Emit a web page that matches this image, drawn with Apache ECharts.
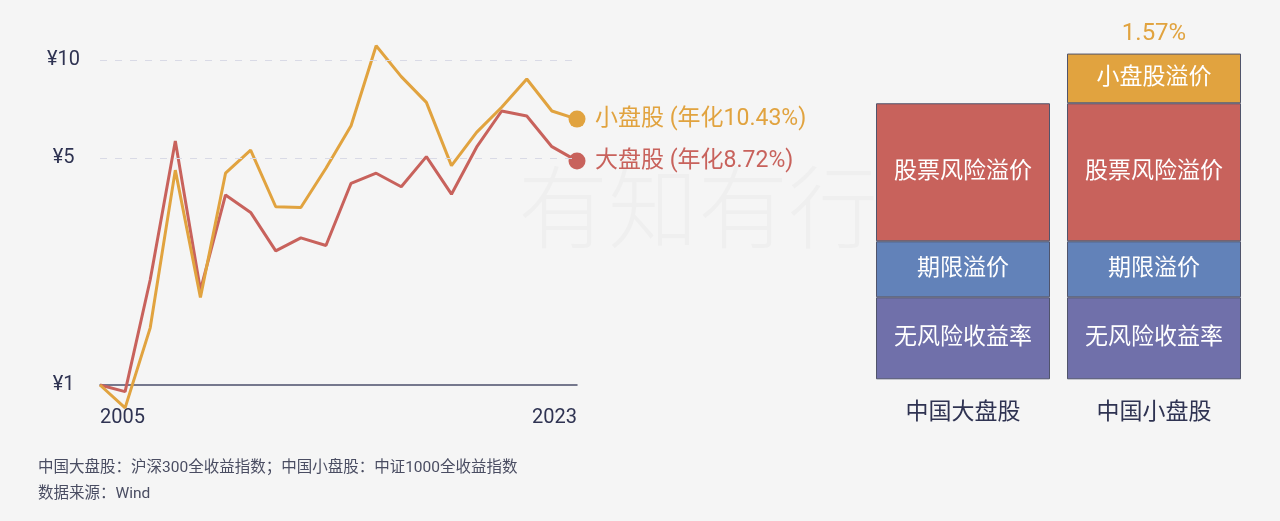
<!DOCTYPE html>
<html>
<head>
<meta charset="utf-8">
<script src="https://cdn.jsdelivr.net/npm/echarts@6/dist/echarts.min.js"></script>
<style>
html,body{margin:0;padding:0;background:#f5f5f5;}
#c{width:1280px;height:521px;}
</style>
</head>
<body>
<div id="c"></div>
<script>
// ---- data ----
const periods = ['2005初','2005','2006','2007','2008','2009','2010','2011','2012','2013','2014','2015','2016','2017','2018','2019','2020','2021','2022','2023'];
const xTickLabels = ['2005', '2023'];
const yTickValues = [1, 5, 10];
const smallCap = [1, 0.85, 1.50, 4.59, 1.86, 4.49, 5.29, 3.54, 3.52, 4.65, 6.29, 11.09, 8.91, 7.42, 4.74, 6.00, 7.17, 8.76, 6.98, 6.59];
const largeCap = [1, 0.954, 2.11, 5.64, 1.96, 3.85, 3.40, 2.59, 2.84, 2.69, 4.18, 4.49, 4.08, 5.05, 3.87, 5.40, 6.98, 6.74, 5.42, 4.90];
const smallName = '小盘股 (年化10.43%)';
const largeName = '大盘股 (年化8.72%)';

const barCategories = ['中国大盘股', '中国小盘股'];
const riskFree = [2.59, 2.59];
const termPremium = [1.77, 1.77];
const equityPremium = [4.36, 4.36];
const smallPremium = ['-', 1.57];
const segNames = ['无风险收益率', '期限溢价', '股票风险溢价', '小盘股溢价'];

const notes = ['中国大盘股：沪深300全收益指数；中国小盘股：中证1000全收益指数', '数据来源：Wind'];

// ---- style ----
const C_ORANGE = '#E1A33F', C_RED = '#C8625C', C_BLUE = '#6282B9', C_PURPLE = '#7070AA';
const C_TEXT = '#2f3352';
const FONT = 'Roboto, "Noto Sans CJK SC", sans-serif';
const last = periods.length - 1;

const chart = echarts.init(document.getElementById('c'), null, {renderer: 'canvas'});

const segStyle = (color) => ({color: color, borderColor: '#50546b', borderWidth: 1});
const segLabel = {show: true, position: 'inside', color: '#ffffff', fontSize: 23, fontFamily: FONT, formatter: (p) => p.seriesName};

chart.setOption({
  backgroundColor: '#f5f5f5',
  animation: false,
  textStyle: {fontFamily: FONT},
  graphic: [
    {type: 'text', left: 518, top: 162, z: -10, silent: true,
     style: {text: '有知有行', fontSize: 90, fontFamily: '"Noto Sans CJK SC"', fontWeight: 300, fill: 'rgba(0,0,0,0.025)'}},
    {type: 'text', left: 38, top: 460, silent: true,
     style: {text: notes[0], fontSize: 15.5, fontFamily: FONT, fill: '#4a4d62'}},
    {type: 'text', left: 38, top: 486, silent: true,
     style: {text: notes[1], fontSize: 15.5, fontFamily: FONT, fill: '#4a4d62'}}
  ],
  grid: [
    {left: 100, width: 477, top: 34.6, height: 350.4},
    {left: 867.5, width: 382, top: 31.1, height: 348.2}
  ],
  xAxis: [
    {type: 'category', gridIndex: 0, data: periods, boundaryGap: false,
     axisLine: {onZero: false, lineStyle: {color: '#4b4f6b', width: 1.5}},
     axisTick: {show: false},
     axisLabel: {interval: 0, margin: 23, fontSize: 20, color: C_TEXT, fontFamily: FONT,
       alignMinLabel: 'left', alignMaxLabel: 'right',
       formatter: (v, i) => i === 0 ? xTickLabels[0] : (i === last ? xTickLabels[1] : '')}},
    {type: 'category', gridIndex: 1, data: barCategories,
     axisLine: {show: false}, axisTick: {show: false},
     axisLabel: {margin: 22, fontSize: 23, color: C_TEXT, fontFamily: FONT}}
  ],
  yAxis: [
    {type: 'log', gridIndex: 0, logBase: 10, min: 1, max: 12,
     axisLine: {show: false}, axisTick: {show: false}, splitLine: {show: false},
     axisLabel: {customValues: yTickValues, align: 'center', margin: 36.5, fontSize: 20, color: C_TEXT, fontFamily: FONT,
       padding: [5, 0, 0, 0],
       formatter: (v) => '¥' + v}},
    {type: 'value', gridIndex: 1, min: 0, max: 11, show: false}
  ],
  series: [
    {type: 'line', name: largeName, xAxisIndex: 0, yAxisIndex: 0, data: largeCap, clip: false,
     symbol: 'circle', showSymbol: true, showAllSymbol: true,
     symbolSize: (v, p) => p.dataIndex === last ? 17 : 0,
     lineStyle: {color: C_RED, width: 3}, itemStyle: {color: C_RED},
     endLabel: {show: true, formatter: largeName, color: C_RED, fontSize: 23, fontFamily: FONT, distance: 18},
     markLine: {silent: true, symbol: 'none', label: {show: false},
       lineStyle: {color: '#d9dae6', type: [7, 8], width: 1.2},
       data: [{yAxis: yTickValues[1]}, {yAxis: yTickValues[2]}]},
     z: 3},
    {type: 'line', name: smallName, xAxisIndex: 0, yAxisIndex: 0, data: smallCap, clip: false,
     symbol: 'circle', showSymbol: true, showAllSymbol: true,
     symbolSize: (v, p) => p.dataIndex === last ? 17 : 0,
     lineStyle: {color: C_ORANGE, width: 3}, itemStyle: {color: C_ORANGE},
     endLabel: {show: true, formatter: smallName, color: C_ORANGE, fontSize: 23, fontFamily: FONT, distance: 18},
     z: 4},
    {type: 'bar', name: segNames[0], xAxisIndex: 1, yAxisIndex: 1, stack: 'r', barWidth: 174,
     data: riskFree, itemStyle: segStyle(C_PURPLE), label: segLabel},
    {type: 'bar', name: segNames[1], xAxisIndex: 1, yAxisIndex: 1, stack: 'r', barWidth: 174,
     data: termPremium, itemStyle: segStyle(C_BLUE), label: segLabel},
    {type: 'bar', name: segNames[2], xAxisIndex: 1, yAxisIndex: 1, stack: 'r', barWidth: 174,
     data: equityPremium, itemStyle: segStyle(C_RED), label: segLabel},
    {type: 'bar', name: segNames[3], xAxisIndex: 1, yAxisIndex: 1, stack: 'r', barWidth: 174,
     data: smallPremium, itemStyle: segStyle(C_ORANGE), label: segLabel},
    {type: 'bar', name: 'top', xAxisIndex: 1, yAxisIndex: 1, stack: 'r', barWidth: 174,
     data: smallPremium.map(v => v === '-' ? '-' : 0),
     itemStyle: {color: 'rgba(0,0,0,0)', borderWidth: 0},
     label: {show: true, position: 'top', distance: 8, color: C_ORANGE, fontSize: 24, fontFamily: FONT,
       formatter: (p) => smallPremium[p.dataIndex] + '%'}}
  ]
});
</script>
</body>
</html>
